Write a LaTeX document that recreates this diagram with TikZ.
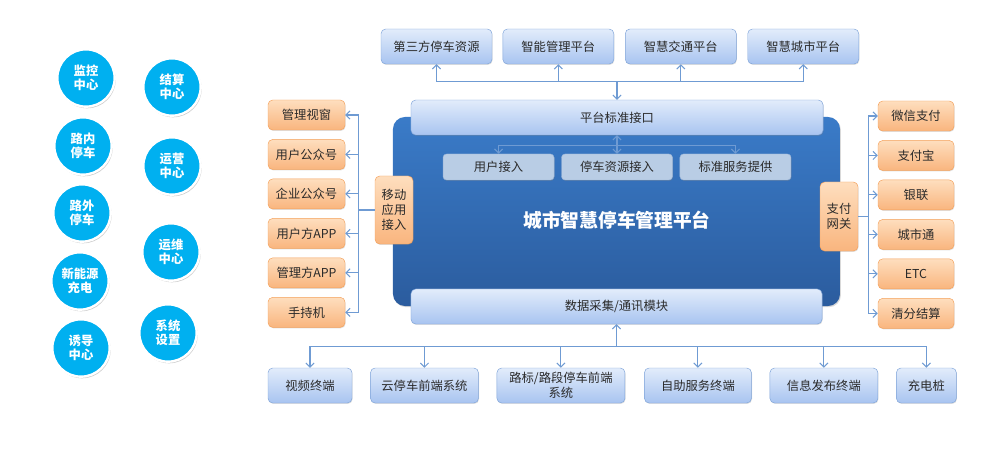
\documentclass[tikz,border=0pt]{standalone}
\usepackage{fontspec}
\setmainfont{Noto Sans CJK SC}
\usepackage{tikz}
\usetikzlibrary{positioning, shadows, arrows.meta}
\definecolor{circblue}{HTML}{00B0F0}
\definecolor{plattop}{HTML}{3A7BC8}
\definecolor{platbot}{HTML}{2B5C9E}
\definecolor{bluetop}{HTML}{E2ECFB}
\definecolor{bluebot}{HTML}{A8C4F0}
\definecolor{blueline}{HTML}{7FA4D9}
\definecolor{innerfill}{HTML}{B9CDE5}
\definecolor{innerline}{HTML}{9DB6D8}
\definecolor{orangetop}{HTML}{FEDEBE}
\definecolor{orangebot}{HTML}{F9B57E}
\definecolor{orangeline}{HTML}{F4A05A}
\definecolor{connline}{HTML}{6F9BD3}
\definecolor{txtgray}{HTML}{2A2A2A}
\tikzstyle{circ} = [circle, minimum size=1.72cm, inner sep=0pt, draw=white, line width=2pt, fill=circblue, text=white, font=\fontsize{10.5}{12}\selectfont\bfseries, align=center, drop shadow={shadow xshift=0.9pt, shadow yshift=-1.4pt, opacity=0.4}]
\tikzstyle{bluebox} = [rectangle, rounded corners=4pt, draw=blueline, top color=bluetop, bottom color=bluebot, text=txtgray, font=\fontsize{10.5}{13}\selectfont, align=center, inner sep=0pt, minimum height=1.05cm, drop shadow={shadow xshift=0.5pt, shadow yshift=-0.8pt, opacity=0.25}]
\tikzstyle{innerbox} = [rectangle, rounded corners=3pt, draw=innerline, fill=innerfill, text=txtgray, font=\fontsize{10.5}{13}\selectfont, align=center, inner sep=0pt, minimum width=3.33cm, minimum height=0.78cm, drop shadow={shadow xshift=0.5pt, shadow yshift=-0.8pt, opacity=0.3}]
\tikzstyle{orangebox} = [rectangle, rounded corners=4pt, draw=orangeline, top color=orangetop, bottom color=orangebot, text=txtgray, font=\fontsize{10.5}{13}\selectfont, align=center, inner sep=0pt, minimum width=2.31cm, minimum height=0.9cm, drop shadow={shadow xshift=0.5pt, shadow yshift=-0.8pt, opacity=0.25}]
\tikzstyle{platbox} = [rectangle, rounded corners=0.36cm, top color=plattop, bottom color=platbot, minimum width=13.41cm, minimum height=5.67cm, drop shadow={shadow xshift=0.8pt, shadow yshift=-1pt, opacity=0.3}]
\tikzstyle{titletext} = [text=white, font=\fontsize{16}{18}\selectfont\bfseries]
\tikzstyle{line} = [draw=connline, line width=0.9pt]
\tikzstyle{arrow} = [line, -{Straight Barb[length=3.5pt,width=7pt]}]
\tikzstyle{darrow} = [line, {Straight Barb[length=3.5pt,width=7pt]}-{Straight Barb[length=3.5pt,width=7pt]}]
\begin{document}
\begin{tikzpicture}[x=0.03cm, y=-0.03cm]
        \useasboundingbox (0,0) rectangle (1000,453);
        \node (jkzx) [circ] at (86,78) {监控\\中心};
        \node (jszx) [circ] at (172,87) {结算\\中心};
        \node (lntc) [circ] at (83,146) {路内\\停车};
        \node (yyzx) [circ] at (172,166) {运营\\中心};
        \node (lwtc) [circ] at (82,213) {路外\\停车};
        \node (ywzx) [circ] at (171,252) {运维\\中心};
        \node (xnycd) [circ] at (80,281) {新能源\\充电};
        \node (xtsz) [circ] at (168,333) {系统\\设置};
        \node (ydzx) [circ] at (81,348) {诱导\\中心};
        \node (plat) [platbox] at (616.5,211.5) {};
        \node (title) [titletext] at (617,220) {城市智慧停车管理平台};
        \node (dsf) [bluebox, minimum width=3.33cm] at (436.5,46.5) {第三方停车资源};
        \node (zngl) [bluebox, minimum width=3.33cm, right=0.31cm of dsf] {智能管理平台};
        \node (zhjt) [bluebox, minimum width=3.33cm, right=0.33cm of zngl] {智慧交通平台};
        \node (zhcs) [bluebox, minimum width=3.33cm, right=0.33cm of zhjt] {智慧城市平台};
        \node (pti) [bluebox, minimum width=12.36cm] at (617,117.5) {平台标准接口};
        \node (tczy) [innerbox] at (617,167) {停车资源接入};
        \node (yhjr) [innerbox, left=0.21cm of tczy] {用户接入};
        \node (bzfw) [innerbox, right=0.21cm of tczy] {标准服务提供};
        \node (sjcj) [bluebox, minimum width=12.33cm] at (616.5,306.5) {数据采集/通讯模块};
        \node (ydyy) [orangebox, minimum width=1.14cm, minimum height=2.04cm] at (394,210) {移动\\应用\\接入};
        \node (zfwg) [orangebox, minimum width=1.14cm, minimum height=2.07cm] at (839,216.5) {支付\\网关};
        \node (glsc) [orangebox] at (306.5,115) {管理视窗};
        \node (yhgz) [orangebox, below=0.27cm of glsc] {用户公众号};
        \node (qygz) [orangebox, below=0.27cm of yhgz] {企业公众号};
        \node (yhapp) [orangebox, below=0.27cm of qygz] {用户方APP};
        \node (glapp) [orangebox, below=0.27cm of yhapp] {管理方APP};
        \node (scj) [orangebox, below=0.27cm of glapp] {手持机};
        \node (wxzf) [orangebox, minimum width=2.28cm] at (916,116) {微信支付};
        \node (zfb) [orangebox, minimum width=2.28cm, below=0.27cm of wxzf] {支付宝};
        \node (yl) [orangebox, minimum width=2.28cm, below=0.27cm of zfb] {银联};
        \node (cst) [orangebox, minimum width=2.28cm, below=0.27cm of yl] {城市通};
        \node (etc) [orangebox, minimum width=2.28cm, below=0.27cm of cst] {ETC};
        \node (qfjs) [orangebox, minimum width=2.28cm, below=0.27cm of etc] {清分结算};
        \node (spzd) [bluebox, minimum width=2.52cm] at (310,385.5) {视频终端};
        \node (yqd) [bluebox, minimum width=3.24cm, right=0.54cm of spzd] {云停车前端系统};
        \node (lbqd) [bluebox, minimum width=3.84cm, right=0.54cm of yqd] {路标/路段停车前端\\系统};
        \node (zzfw) [bluebox, minimum width=3.21cm, right=0.57cm of lbqd] {自助服务终端};
        \node (xxfb) [bluebox, minimum width=3.24cm, right=0.54cm of zzfw] {信息发布终端};
        \node (cdz) [bluebox, minimum width=1.8cm, right=0.54cm of xxfb] {充电桩};
        \coordinate (tj) at ([yshift=0.54cm]pti.north);
        \coordinate (ij) at ([yshift=-0.3cm]pti.south);
        \coordinate (bj) at ([yshift=-0.66cm]sjcj.south);
        \coordinate (lj) at ([xshift=-0.48cm]ydyy.west);
        \coordinate (rj) at ([xshift=0.3cm]zfwg.east);
        \draw [arrow] (tj) -- (pti.north);
        \draw [arrow] (tj) -| (dsf.south);
        \draw [arrow] (tj) -| (zngl.south);
        \draw [arrow] (tj) -| (zhjt.south);
        \draw [arrow] (tj) -| (zhcs.south);
        \draw [darrow] (pti.south) -- (tczy.north);
        \draw [arrow] (ij) -| (yhjr.north);
        \draw [arrow] (ij) -| (bzfw.north);
        \draw [line] (ydyy.west) -- (lj);
        \draw [arrow] (lj) |- (glsc.east);
        \draw [arrow] (lj) |- (yhgz.east);
        \draw [arrow] (lj) |- (qygz.east);
        \draw [arrow] (lj) |- (yhapp.east);
        \draw [arrow] (lj) |- (glapp.east);
        \draw [arrow] (lj) |- (scj.east);
        \draw [line] (zfwg.east) -- (rj);
        \draw [arrow] (rj) |- (wxzf.west);
        \draw [arrow] (rj) |- (zfb.west);
        \draw [arrow] (rj) |- (yl.west);
        \draw [arrow] (rj) |- (cst.west);
        \draw [arrow] (rj) |- (etc.west);
        \draw [arrow] (rj) |- (qfjs.west);
        \draw [arrow] (bj) -- (sjcj.south);
        \draw [arrow] (bj) -| (spzd.north);
        \draw [arrow] (bj) -| (yqd.north);
        \draw [arrow] (bj) -| (lbqd.north);
        \draw [arrow] (bj) -| (zzfw.north);
        \draw [arrow] (bj) -| (xxfb.north);
        \draw [arrow] (bj) -| (cdz.north);
\end{tikzpicture}
\end{document}
